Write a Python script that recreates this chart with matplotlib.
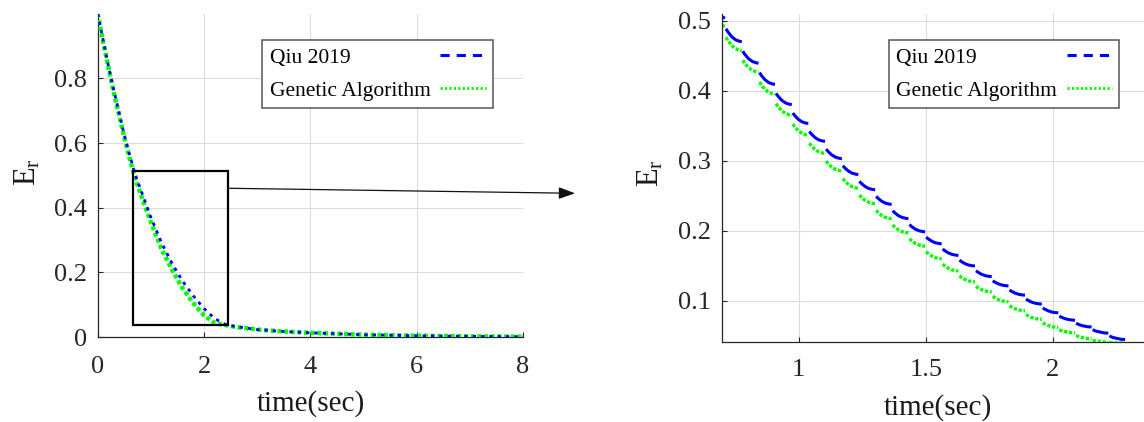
import matplotlib
matplotlib.use("Agg")
import matplotlib.pyplot as plt
from matplotlib.path import Path
from matplotlib.patches import PathPatch, Rectangle, ConnectionPatch
from matplotlib.lines import Line2D

plt.rcParams['font.family'] = ['Liberation Serif', 'DejaVu Serif']
plt.rcParams['mathtext.fontset'] = 'custom'
plt.rcParams['mathtext.rm'] = 'Liberation Serif'
plt.rcParams['mathtext.it'] = 'Liberation Serif:italic'

# ---------------- data ----------------
series_names = ["Qiu 2019", "Genetic Algorithm"]

# full response (left panel)
time_full = [0, 0.1, 0.2, 0.3, 0.4, 0.5, 0.6, 0.7, 0.8, 1.0, 1.2, 1.4, 1.6,
             1.8, 2.0, 2.2, 2.4, 2.6, 3.0, 3.5, 4.0, 5.0, 6.0, 7.0, 8.0]
qiu_full = [1.0, 0.92, 0.84, 0.765, 0.695, 0.625, 0.563, 0.505, 0.46, 0.37,
            0.292, 0.227, 0.172, 0.127, 0.088, 0.057, 0.039, 0.032, 0.023,
            0.017, 0.013, 0.007, 0.004, 0.002, 0.001]
ga_full = [1.0, 0.915, 0.835, 0.758, 0.688, 0.617, 0.553, 0.493, 0.445, 0.355,
           0.272, 0.207, 0.150, 0.104, 0.067, 0.043, 0.037, 0.031, 0.023,
           0.017, 0.013, 0.007, 0.004, 0.002, 0.001]

# zoomed response (right panel): sample instants and held levels
time_zoom = [0.710, 0.776, 0.842, 0.907, 0.973, 1.038, 1.104, 1.170, 1.235,
             1.301, 1.366, 1.432, 1.498, 1.563, 1.629, 1.694, 1.760, 1.826,
             1.891, 1.957, 2.022, 2.088, 2.153, 2.219, 2.285]
qiu_zoom = [0.504, 0.4706, 0.4398, 0.4095, 0.3806, 0.3536, 0.3280, 0.3033,
            0.2806, 0.2588, 0.2379, 0.2175, 0.1986, 0.1815, 0.1649, 0.1498,
            0.1346, 0.1213, 0.1081, 0.0953, 0.0828, 0.0722, 0.0625, 0.0537,
            0.0446]
ga_zoom = [0.492, 0.4578, 0.4270, 0.3953, 0.3654, 0.3370, 0.3109, 0.2858,
           0.2611, 0.2389, 0.2175, 0.1972, 0.1782, 0.1602, 0.1427, 0.1270,
           0.1128, 0.0986, 0.0858, 0.0735, 0.0620, 0.0540, 0.0456, 0.0410,
           0.0395]

left_xticks = [0, 2, 4, 6, 8]
left_yticks = [0, 0.2, 0.4, 0.6, 0.8]
right_xticks = [1, 1.5, 2]
right_yticks = [0.1, 0.2, 0.3, 0.4, 0.5]

# zoom window
zoom_x = (0.67, 2.457)
zoom_y = (0.037, 0.514)

# ---------------- styling ----------------
BLUE = (0.0, 0.0, 1.0)
GREEN = (0.0, 1.0, 0.0)
AX_COL = '#262626'
GRID_COL = '#dcdcdc'
TICK_FS = 19
LABEL_FS = 21
LEG_FS = 15.5

W, H = 1144, 422
fig = plt.figure(figsize=(W / 100, H / 100), dpi=100)
ax1 = fig.add_axes([97.7 / W, 1 - 337 / H, (523 - 97.7) / W, (337 - 14) / H])
ax2 = fig.add_axes([721.7 / W, 1 - 342 / H, (1168.8 - 721.7) / W, (342 - 14) / H])


def style_axes(ax, xticks, yticks, xpad, ypad):
    ax.set_xticks(xticks)
    ax.set_yticks(yticks)
    ax.set_xticklabels([f"{v:g}" for v in xticks])
    ax.set_yticklabels([f"{v:g}" for v in yticks])
    for s in ['top', 'right']:
        ax.spines[s].set_visible(False)
    for s in ['left', 'bottom']:
        ax.spines[s].set_color(AX_COL)
        ax.spines[s].set_linewidth(0.9)
    ax.tick_params(direction='in', length=3.5, width=0.8, colors=AX_COL,
                   labelsize=TICK_FS, labelcolor=AX_COL)
    ax.tick_params(axis='x', pad=xpad)
    ax.tick_params(axis='y', pad=ypad)
    ax.grid(True, color=GRID_COL, lw=0.8)
    ax.set_axisbelow(True)


# ---- left panel ----
ax1.plot(time_full, ga_full, color=GREEN, ls=(0, (0.9, 0.6)), lw=3.2,
         label=series_names[1], zorder=3)
ax1.plot(time_full, qiu_full, color=BLUE, ls=(0, (1.2, 1.8)), lw=2.0,
         label=series_names[0], zorder=4)
ax1.set_xlim(0, 8)
ax1.set_ylim(0, 0.999)
style_axes(ax1, left_xticks, left_yticks, 14, 7.5)

ax1.add_patch(Rectangle((zoom_x[0], zoom_y[0]), zoom_x[1] - zoom_x[0],
                        zoom_y[1] - zoom_y[0], fill=False, ec='black',
                        lw=1.6, zorder=5))

# ---- right panel: each held sample drawn as one dash ----
def draw_held(ax, t, v, color, ls, lw):
    x_left = ax.get_xlim()[0]
    ax.plot([x_left, t[0]], [v[0] + 0.002, v[0]], color=color, lw=lw,
            ls=ls, solid_capstyle='butt')
    for i in range(1, len(t)):
        t0, t1 = t[i - 1], t[i]
        y0 = v[i - 1] - 0.45 * (v[i - 1] - v[i])
        x0 = t0 + 0.004
        verts = [(x0, y0), (x0 + 0.45 * (t1 - x0), v[i]), (t1, v[i])]
        codes = [Path.MOVETO, Path.CURVE3, Path.CURVE3]
        ax.add_patch(PathPatch(Path(verts, codes), fill=False, ec=color,
                               lw=lw, ls=ls, capstyle='butt', zorder=3))


ax2.set_xlim(0.697, 2.457)
ax2.set_ylim(0.041, 0.51)
draw_held(ax2, time_zoom, qiu_zoom, BLUE, '-', 2.2)
draw_held(ax2, time_zoom, ga_zoom, GREEN, (0, (1.0, 0.5)), 2.4)
style_axes(ax2, right_xticks, right_yticks, 12.5, 8)

# ---- labels ----
for ax, xc, ylab in [(ax1, 0.502, -0.164), (ax2, 0.484, -0.158)]:
    ax.set_xlabel('time(sec)', fontsize=LABEL_FS, color='#1a1a1a')
    ax.xaxis.set_label_coords(xc, ylab)
    ax.xaxis.label.set_va('top')

fig.text(27.4 / W, 1 - 171.7 / H, r'$\mathrm{E_r}$', rotation=90,
         ha='center', va='center', fontsize=22, color='#1a1a1a')
fig.text(651 / W, 1 - 173 / H, r'$\mathrm{E_r}$', rotation=90,
         ha='center', va='center', fontsize=22, color='#1a1a1a')

# ---- arrow from zoom box to right panel ----
arrow = ConnectionPatch(xyA=(zoom_x[1], 0.46), coordsA=ax1.transData,
                        xyB=(575 / W, 1 - 193.3 / H), coordsB=fig.transFigure,
                        arrowstyle='-|>,head_length=0.55,head_width=0.2',
                        mutation_scale=18, lw=0.9, color='#111111')
fig.add_artist(arrow)

# ---- legends (MATLAB style: text first, sample on the right) ----
h_qiu = Line2D([], [], color=BLUE, lw=2.2, ls=(0, (3.0, 2.3)))
h_ga = Line2D([], [], color=GREEN, lw=2.0, ls=(0, (0.8, 0.8)))

legends = []
for ax, (lx, ly) in [(ax1, (262.3, 40)), (ax2, (888.6, 40))]:
    leg = ax.legend([h_qiu, h_ga], series_names, markerfirst=False,
                    loc='upper left', bbox_to_anchor=(lx / W, 1 - ly / H),
                    bbox_transform=fig.transFigure, fontsize=LEG_FS,
                    frameon=True, fancybox=False, framealpha=1,
                    edgecolor='#555555', handlelength=2.1,
                    handletextpad=0.45, labelspacing=0.6, borderpad=0.35,
                    borderaxespad=0)
    leg.get_frame().set_linewidth(1.1)
    legends.append(leg)

fig.canvas.draw()
for leg in legends:
    texts = leg.get_texts()
    widths = [t.get_window_extent().width for t in texts]
    maxw = max(widths)
    col = leg._legend_handle_box.get_children()[0]
    for item, w in zip(col.get_children(), widths):
        item.sep = item.sep + (maxw - w) * 72.0 / fig.dpi

fig.savefig('out.png', dpi=100)
